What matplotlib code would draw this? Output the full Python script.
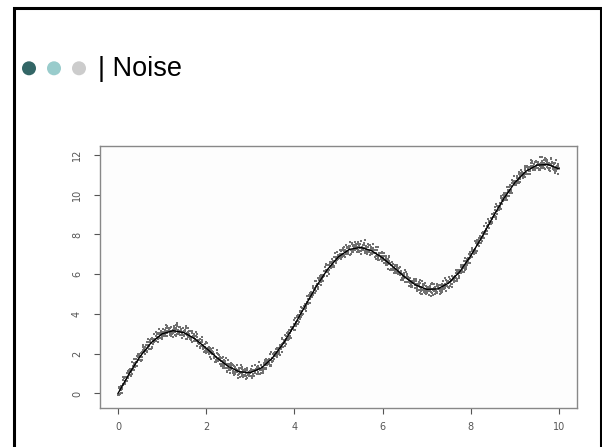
import matplotlib.pyplot as plt
import numpy as np

# smooth curve (x step 0.25)
curve_x = [0.0, 0.25, 0.5, 0.75, 1.0, 1.25, 1.5, 1.75, 2.0, 2.25,
           2.5, 2.75, 3.0, 3.25, 3.5, 3.75, 4.0, 4.25, 4.5, 4.75,
           5.0, 5.25, 5.5, 5.75, 6.0, 6.25, 6.5, 6.75, 7.0, 7.25,
           7.5, 7.75, 8.0, 8.25, 8.5, 8.75, 9.0, 9.25, 9.5, 9.75, 10.0]
curve_y = [0.00, 0.98, 1.86, 2.55, 3.00, 3.16, 3.06, 2.74, 2.28, 1.79,
           1.36, 1.09, 1.05, 1.28, 1.78, 2.52, 3.44, 4.43, 5.40, 6.24,
           6.88, 7.25, 7.35, 7.18, 6.82, 6.35, 5.86, 5.46, 5.24, 5.26,
           5.56, 6.13, 6.93, 7.87, 8.87, 9.81, 10.61, 11.18, 11.49, 11.52, 11.30]

# scatter of noisy observations around the curve
noise_dx = [-0.48, 0.31, -0.12, 0.44, 0.07, -0.35, 0.22, -0.03, 0.39, -0.27,
            0.15, -0.42, 0.48, -0.19, 0.02, 0.27, -0.08, -0.46, 0.35, 0.11,
            -0.31, 0.19, -0.15, 0.42, -0.38, 0.05, 0.29, -0.23, 0.13, -0.05,
            0.46, -0.40, 0.24, -0.10, 0.37, -0.29]
noise_dy = [0.12, -0.05, 0.21, -0.18, 0.03, -0.27, 0.09, 0.16, -0.11, 0.01,
            -0.22, 0.28, -0.07, 0.14, -0.14, 0.05, -0.31, 0.19, -0.02, 0.08,
            -0.16, 0.24, -0.09, 0.36, -0.04, 0.11, -0.20, 0.06, -0.12, 0.17,
            -0.26, 0.02, 0.13, -0.08, 0.31, -0.15, -0.01]

x_ticks = [0, 2, 4, 6, 8, 10]
y_ticks = [0, 2, 4, 6, 8, 10, 12]
title = "Noise"


def noisy_points():
    cx = np.array(curve_x)
    cy = np.array(curve_y)
    slope = np.gradient(cy, cx)
    step = cx[1] - cx[0]
    xs, ys = [], []
    for i in range(len(cx)):
        for j, d in enumerate(noise_dx):
            off = d * step
            xs.append(cx[i] + off)
            ys.append(cy[i] + slope[i] * off + noise_dy[(5 * j + 11 * i) % len(noise_dy)])
    xs = np.array(xs)
    ys = np.array(ys)
    keep = (xs >= 0) & (xs <= 10)
    return xs[keep], ys[keep]


fig = plt.figure(figsize=(6.02, 4.47), dpi=100)

# slide decoration in pixel coordinates
bg = fig.add_axes([0, 0, 1, 1], zorder=0)
bg.set_xlim(0, 602)
bg.set_ylim(447, 0)
bg.axis("off")
bg.plot([14, 14, 600.5, 600.5], [447, 8, 8, 447], color="black", lw=2.2,
        solid_joinstyle="miter")
for cx_, col in zip([29, 54, 79], ["#336666", "#99cccc", "#cccccc"]):
    bg.add_patch(plt.Circle((cx_, 68.3), 7, color=col, lw=0))
bg.text(98, 76, "| " + title, fontsize=19.5, family="Liberation Sans",
        color="black", ha="left", va="baseline")

# the plot itself
ax = fig.add_axes([100 / 602, 39 / 447, 477 / 602, 262 / 447], zorder=1)
px, py = noisy_points()
ax.scatter(px, py, s=0.6, marker="s", color="#707070", linewidths=0)
ax.plot(curve_x, curve_y, color="black", lw=1.0)

ax.set_xlim(-0.408, 10.408)
ax.set_ylim(-0.73, 12.45)
ax.set_xticks(x_ticks)
ax.set_yticks(y_ticks)
ax.set_xticklabels([str(t) for t in x_ticks])
ax.set_yticklabels([str(t) for t in y_ticks], rotation=90, va="center")
ax.tick_params(direction="out", length=4, width=0.8, color="#555555",
               labelsize=7, labelcolor="#555555")
ax.tick_params(axis="x", pad=6)
ax.tick_params(axis="y", pad=9)
for s in ax.spines.values():
    s.set_color("#888888")
    s.set_linewidth(1.0)
ax.set_facecolor("#fdfdfd")

fig.savefig("out.png", dpi=100)
